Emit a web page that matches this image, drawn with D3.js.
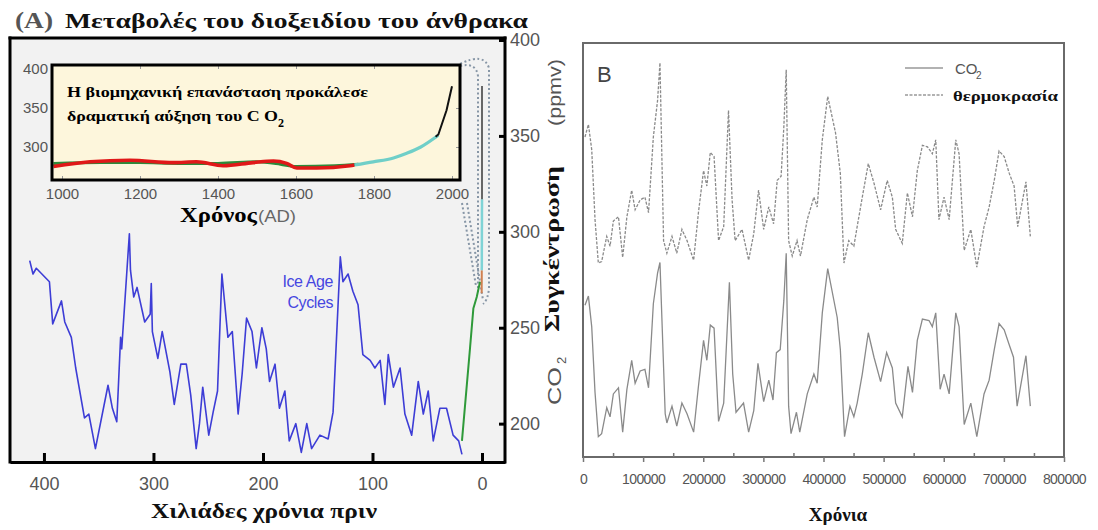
<!DOCTYPE html>
<html>
<head>
<meta charset="utf-8">
<script src="https://cdn.jsdelivr.net/npm/d3@7"></script>
<style>
  html, body { margin: 0; padding: 0; background: #fff; }
  svg { display: block; }
</style>
</head>
<body>
<svg id="chart" width="1098" height="530"></svg>
<script>
// ---------- Panel A: ice-core CO2 over the last ~420 kyr (ppmv) ----------
const ageIce = [413, 410, 407, 395, 392, 384, 381, 375, 371, 363, 359, 353, 341.5, 337.5, 333.5, 330, 329, 322, 321, 318,
  315, 308, 303, 302, 301, 296, 292, 285, 281, 275, 270, 266, 261, 258, 255, 249.5, 245.5, 241.5, 237.5, 232,
  228, 222.7, 219, 215, 210, 206, 201, 197, 194, 189, 185, 180, 176, 170, 165, 160, 155.6, 148, 140.5, 136,
  129.4, 127, 122.3, 117.9, 113.2, 108.8, 102.1, 97.8, 93, 88.7, 85.6, 80.9, 74.8, 70.4, 64.2, 58.2, 53.6, 49.1, 44.5, 38.5,
  32.4, 26.4, 21.3, 18.3];
const co2Ice = [285, 278, 281, 274, 252, 264, 253, 245, 229, 203, 205, 187, 220, 208, 201, 245, 239, 299, 280, 266,
  271, 253, 257, 273, 248, 234, 248, 227, 210, 231, 231, 215, 187, 200, 219, 194, 206, 217, 278, 245,
  248, 205, 226, 255, 248, 229, 250, 239, 222, 231, 208, 217, 191, 200, 185, 200, 187, 194, 192, 206,
  287, 274, 278, 269, 262, 236, 233, 229, 233, 210, 236, 219, 229, 205, 194, 222, 205, 217, 191, 208,
  208, 194, 191, 184];

// deglaciation and Holocene
const ageHolo = [18.3, 11, 7.9, 4.8, 1.8];
const co2Holo = [191, 239, 260, 266, 274];

// industrial era, drawn at age ~0
const ageModern = [0.3, 0.2, 0];
const co2ModernCyan = [280, 317];
const co2ModernBlack = [317, 376];
const co2ModernOrange = [268, 280];

// inset: last millennium (year AD, ppmv)
const yearLaw = [978, 1072, 1174, 1285, 1345, 1413, 1490, 1542, 1576, 1602, 1653, 1738, 1750];
const co2Law = [275, 281, 283, 280, 281, 276, 280, 282, 279, 273, 273, 276, 277];
const yearGreen = [978, 1100, 1200, 1300, 1400, 1500, 1560, 1600, 1700, 1760];
const co2Green = [279, 280, 280, 279, 279, 281, 278, 275, 276, 278];
const yearCyan = [1750, 1798, 1850, 1884, 1920, 1965];
const co2Cyan = [277, 281, 286, 292, 300, 315];
const yearBlack = [1958, 1965, 1986, 2000];
const co2Black = [313, 316, 347, 378];

// tick labels
const ageTicks = [400, 300, 200, 100, 0];
const co2Ticks = [200, 250, 300, 350, 400];
const yearTicks = [1000, 1200, 1400, 1600, 1800, 2000];
const insetCo2Ticks = [300, 350, 400];

// ---------- Panel B: 800 kyr record (thousands of years) ----------
const kyrTemp = [3.3, 9, 14.5, 20, 25.5, 31, 39.5, 45, 50.5, 59, 66, 73, 81, 86.7, 95, 103, 109, 117, 124, 128,
  134, 139.5, 148, 156, 164.5, 173, 184, 192, 200.5, 206, 211.7, 218, 225.5, 234, 242, 248, 253, 264.5, 275.5, 284,
  292, 300.5, 309, 317, 323, 329.5, 334, 338, 342, 348, 356, 361.7, 373, 384, 389.5, 398, 407, 420, 428, 434,
  442, 450.5, 456, 464.5, 474.5, 484, 495, 506, 514.5, 520, 531, 539.5, 548, 556, 564.5, 573, 581, 586.7, 592, 600.5,
  609, 620, 625.5, 634, 645, 655, 667, 675.5, 684, 692, 700.5, 709, 717, 723, 736.7, 744];
const tempAnom = [-0.5, 0.4, -1.4, -6.4, -9.5, -9.4, -7.6, -8.3, -6.5, -6.2, -9.1, -6.2, -4.3, -5.7, -5.0, -4.8, -5.9, -0.5, 2.1, 4.8,
  -7.9, -8.8, -7.6, -8.8, -7.1, -7.9, -9.3, -5.9, -2.9, -4.0, -1.6, -1.9, -7.9, -6.9, 1.4, -5.0, -7.9, -7.1, -9.3, -7.4,
  -4.3, -7.1, -5.5, -6.7, -3.6, -3.3, 0.2, 4.3, -7.9, -9.0, -7.9, -9.0, -6.4, -4.8, -5.5, -0.7, 2.4, -0.2, -3.1, -9.5,
  -7.9, -8.3, -6.9, -4.8, -2.4, -3.8, -5.7, -3.6, -4.8, -7.1, -8.1, -4.5, -6.2, -2.9, -1.1, -1.2, -1.7, -0.7, -6.4, -4.8,
  -6.4, -0.7, -1.7, -8.6, -7.1, -9.8, -6.9, -5.5, -3.6, -1.5, -1.9, -3.1, -4.0, -6.9, -3.7, -7.6];

const kyrCO2 = [3.3, 9, 14.5, 20, 25.5, 31, 39.5, 45, 50.5, 59, 66, 73, 81, 86.7, 95, 103, 109, 117, 124, 128,
  136.7, 139.5, 148, 156, 164.5, 173, 184, 192, 200.5, 206, 211.7, 218, 225.5, 234, 243.5, 249, 254.5, 267, 275.5, 284,
  291, 300.5, 309, 316, 321.7, 328, 334, 338, 342, 346, 355, 360.5, 373, 384, 389.5, 398, 407, 422.8, 428, 435,
  444, 450.5, 456, 464.5, 474.5, 484, 495, 505, 514.5, 520, 531, 540.5, 548, 556, 564.5, 575.5, 581, 586.7, 594, 600.5,
  609, 620, 625.5, 634, 645, 655, 667, 675.5, 684, 692, 700.5, 709, 716, 722, 736.7, 744];
const co2Epica = [266, 272, 252, 209, 180, 182, 199, 193, 208, 212, 183, 211, 230, 215, 223, 224, 212, 267, 287, 294,
  195, 189, 200, 187, 202, 195, 183, 213, 243, 230, 253, 251, 190, 202, 281, 221, 196, 202, 183, 197,
  228, 203, 217, 204, 235, 237, 269, 300, 200, 182, 196, 183, 208, 221, 215, 261, 290, 258, 237, 180,
  200, 193, 202, 221, 248, 232, 216, 235, 225, 202, 193, 226, 209, 243, 257, 256, 252, 261, 211, 221,
  208, 261, 252, 188, 202, 180, 208, 217, 237, 254, 250, 240, 232, 200, 233, 200];

const yearTicksB = [0, 100000, 200000, 300000, 400000, 500000, 600000, 700000, 800000];
const minorTicksB = [50000, 150000, 250000, 350000, 450000, 550000, 650000, 750000];

// ---------- drawing ----------
const SERIF = "'Liberation Serif','Times New Roman',serif";
const SANS = "'Liberation Sans',Arial,sans-serif";
const svg = d3.select("#chart");
svg.append("rect").attr("width", 1098).attr("height", 530).attr("fill", "#fff");

// ===== Panel A =====
const A = { left: 10, right: 505, top: 38, bottom: 462 };
svg.append("rect")
  .attr("x", A.left).attr("y", A.top)
  .attr("width", A.right - A.left).attr("height", A.bottom - A.top)
  .attr("fill", "#f2f2f2");

const xA = d3.scaleLinear().domain([431, -21]).range([A.left, A.right]);
const yA = d3.scaleLinear().domain([180, 400]).range([A.bottom, 40]);
const lineA = d3.line().x(d => xA(d[0])).y(d => yA(d[1]));

// dotted zoom connector between the inset and the present-day spike
const conn = svg.append("g").attr("fill", "none").attr("stroke", "#8796a6")
  .attr("stroke-width", 2).attr("stroke-dasharray", "2,2.5");
conn.append("path").attr("d", `M460,64 Q484,52 489,68 L489,288 Q488,300 483,304`);
conn.append("path").attr("d", `M460,66 Q476,62 478,76 L478,292`);
conn.append("path").attr("d", `M462,203 L476,286`);
conn.append("path").attr("d", `M467,203 L483,300`);

// glacial cycles
svg.append("path")
  .datum(d3.zip(ageIce, co2Ice))
  .attr("d", lineA)
  .attr("fill", "none").attr("stroke", "#3d3dd6").attr("stroke-width", 1.6)
  .attr("stroke-linejoin", "round");

// deglaciation / Holocene
svg.append("path")
  .datum(d3.zip(ageHolo, co2Holo))
  .attr("d", lineA)
  .attr("fill", "none").attr("stroke", "#2f9a3a").attr("stroke-width", 2)
  .attr("stroke-linejoin", "round");

// industrial spike
svg.append("path").datum([[ageModern[0], co2ModernOrange[0]], [ageModern[1], co2ModernOrange[1]]])
  .attr("d", lineA).attr("fill", "none").attr("stroke", "#d08050").attr("stroke-width", 2);
svg.append("path").datum([[ageModern[1], co2ModernCyan[0]], [ageModern[2], co2ModernCyan[1]]])
  .attr("d", lineA).attr("fill", "none").attr("stroke", "#7fd3d6").attr("stroke-width", 2.5);
svg.append("path").datum([[ageModern[2], co2ModernBlack[0]], [ageModern[2], co2ModernBlack[1]]])
  .attr("d", lineA).attr("fill", "none").attr("stroke", "#444").attr("stroke-width", 1.6);

// "Ice Age Cycles"
const iceLbl = svg.append("text").attr("font-family", SANS).attr("font-size", 16)
  .attr("fill", "#4646e0").attr("text-anchor", "end");
iceLbl.append("tspan").attr("x", 333).attr("y", 287).attr("letter-spacing", -0.4).text("Ice Age");
iceLbl.append("tspan").attr("x", 333).attr("y", 308).attr("letter-spacing", -0.4).text("Cycles");

// bottom axis
const gxA = svg.append("g").attr("transform", `translate(0,${A.bottom})`)
  .call(d3.axisBottom(xA).tickValues(ageTicks).tickSizeInner(-9).tickSizeOuter(0).tickPadding(15));
gxA.select(".domain").attr("stroke", "#000").attr("stroke-width", 3);
gxA.selectAll(".tick line").attr("stroke", "#000").attr("stroke-width", 3);
gxA.selectAll(".tick text").attr("font-family", SANS).attr("font-size", 18).attr("fill", "#555");

// right axis
const gyA = svg.append("g").attr("transform", `translate(${A.right},0)`)
  .call(d3.axisRight(yA).tickValues(co2Ticks).tickSizeInner(-6).tickSizeOuter(0).tickPadding(5));
gyA.select(".domain").remove();
gyA.selectAll(".tick line").attr("stroke", "#000").attr("stroke-width", 3);
gyA.selectAll(".tick text").attr("font-family", SANS).attr("font-size", 18).attr("fill", "#555");

// frame
const frameA = svg.append("g").attr("stroke", "#000").attr("stroke-width", 3);
frameA.append("line").attr("x1", A.left).attr("x2", A.left).attr("y1", A.top - 1.5).attr("y2", A.bottom + 1.5);
frameA.append("line").attr("x1", A.left - 1.5).attr("x2", A.right + 1.5).attr("y1", A.top).attr("y2", A.top);
frameA.append("line").attr("x1", A.right).attr("x2", A.right).attr("y1", A.top - 1.5).attr("y2", A.bottom + 1.5);

// ----- inset -----
const I = { left: 52, right: 460, top: 65, bottom: 180 };
const xI = d3.scaleLinear().domain([1000, 2000]).range([62, 452]);
const yI = d3.scaleLinear().domain([300, 400]).range([147, 69]);
const lineI = d3.line().x(d => xI(d[0])).y(d => yI(d[1])).curve(d3.curveMonotoneX);

svg.append("defs").append("clipPath").attr("id", "insetClip")
  .append("rect").attr("x", I.left).attr("y", I.top)
  .attr("width", I.right - I.left).attr("height", I.bottom - I.top);

svg.append("rect").attr("x", I.left).attr("y", I.top)
  .attr("width", I.right - I.left).attr("height", I.bottom - I.top)
  .attr("fill", "#fdf6dc");

const insetG = svg.append("g").attr("clip-path", "url(#insetClip)");
insetG.append("path").datum(d3.zip(yearGreen, co2Green)).attr("d", lineI)
  .attr("fill", "none").attr("stroke", "#2c8a3a").attr("stroke-width", 3);
insetG.append("path").datum(d3.zip(yearLaw, co2Law)).attr("d", lineI)
  .attr("fill", "none").attr("stroke", "#e01818").attr("stroke-width", 3.6);
insetG.append("path").datum(d3.zip(yearCyan, co2Cyan)).attr("d", lineI)
  .attr("fill", "none").attr("stroke", "#6fcfc8").attr("stroke-width", 3.2);
insetG.append("path").datum(d3.zip(yearBlack, co2Black)).attr("d", d3.line().x(d => xI(d[0])).y(d => yI(d[1])))
  .attr("fill", "none").attr("stroke", "#111").attr("stroke-width", 2);

// inset axes
const gxI = svg.append("g").attr("transform", `translate(0,${I.bottom})`)
  .call(d3.axisBottom(xI).tickValues(yearTicks).tickFormat(d3.format("d")).tickSizeInner(-4).tickSizeOuter(0).tickPadding(8));
gxI.select(".domain").remove();
gxI.selectAll(".tick line").attr("stroke", "#999").attr("stroke-width", 1);
gxI.selectAll(".tick text").attr("font-family", SANS).attr("font-size", 15).attr("fill", "#555");

const gxIt = svg.append("g").attr("transform", `translate(0,${I.top})`)
  .call(d3.axisTop(xI).tickValues(yearTicks.slice(1, -1)).tickFormat("").tickSizeInner(-4).tickSizeOuter(0));
gxIt.select(".domain").remove();
gxIt.selectAll(".tick line").attr("stroke", "#999");

const gyI = svg.append("g").attr("transform", `translate(${I.left},0)`)
  .call(d3.axisLeft(yI).tickValues(insetCo2Ticks).tickSizeInner(0).tickSizeOuter(0).tickPadding(4));
gyI.select(".domain").remove();
gyI.selectAll(".tick text").attr("font-family", SANS).attr("font-size", 15).attr("fill", "#555");

const gyIr = svg.append("g").attr("transform", `translate(${I.right},0)`)
  .call(d3.axisRight(yI).tickValues([300, 350]).tickFormat("").tickSizeInner(-4).tickSizeOuter(0));
gyIr.select(".domain").remove();
gyIr.selectAll(".tick line").attr("stroke", "#999");

svg.append("rect").attr("x", I.left).attr("y", I.top)
  .attr("width", I.right - I.left).attr("height", I.bottom - I.top)
  .attr("fill", "none").attr("stroke", "#000").attr("stroke-width", 3);

// inset caption
svg.append("text").attr("x", 67).attr("y", 97)
  .attr("font-family", SERIF).attr("font-weight", "bold").attr("font-size", 14)
  .attr("textLength", 301).attr("lengthAdjust", "spacingAndGlyphs")
  .text("Η βιομηχανική επανάσταση προκάλεσε");
svg.append("text").attr("x", 67).attr("y", 121)
  .attr("font-family", SERIF).attr("font-weight", "bold").attr("font-size", 14)
  .attr("textLength", 211).attr("lengthAdjust", "spacingAndGlyphs")
  .text("δραματική αύξηση του C O");
svg.append("text").attr("x", 278).attr("y", 127)
  .attr("font-family", SERIF).attr("font-weight", "bold").attr("font-size", 12).text("2");

// inset x title
svg.append("text").attr("x", 180).attr("y", 222)
  .attr("font-family", SERIF).attr("font-weight", "bold").attr("font-size", 21)
  .attr("textLength", 77).attr("lengthAdjust", "spacingAndGlyphs").text("Χρόνος");
svg.append("text").attr("x", 258).attr("y", 222)
  .attr("font-family", SANS).attr("font-size", 16).attr("fill", "#666")
  .attr("textLength", 38).attr("lengthAdjust", "spacingAndGlyphs").text("(AD)");

// panel A title
svg.append("text").attr("x", 15).attr("y", 28)
  .attr("font-family", SERIF).attr("font-weight", "bold").attr("font-size", 23).attr("fill", "#555")
  .attr("textLength", 38).attr("lengthAdjust", "spacingAndGlyphs").text("(A)");
svg.append("text").attr("x", 65).attr("y", 28)
  .attr("font-family", SERIF).attr("font-weight", "bold").attr("font-size", 22).attr("fill", "#111")
  .attr("textLength", 463).attr("lengthAdjust", "spacingAndGlyphs")
  .text("Μεταβολές του διοξειδίου του άνθρακα");

// panel A x title
svg.append("text").attr("x", 151).attr("y", 518)
  .attr("font-family", SERIF).attr("font-weight", "bold").attr("font-size", 21).attr("fill", "#111")
  .attr("textLength", 226).attr("lengthAdjust", "spacingAndGlyphs")
  .text("Χιλιάδες χρόνια πριν");

// vertical axis title
svg.append("text").attr("transform", "translate(561,405) rotate(-90)")
  .attr("font-family", SANS).attr("font-size", 19).attr("fill", "#555")
  .attr("textLength", 38).attr("lengthAdjust", "spacingAndGlyphs").text("CO");
svg.append("text").attr("transform", "translate(566,364) rotate(-90)")
  .attr("font-family", SANS).attr("font-size", 13).attr("fill", "#555").text("2");
svg.append("text").attr("transform", "translate(559,332) rotate(-90)")
  .attr("font-family", SERIF).attr("font-weight", "bold").attr("font-size", 20).attr("fill", "#111")
  .attr("textLength", 166).attr("lengthAdjust", "spacingAndGlyphs").text("Συγκέντρωση");
svg.append("text").attr("transform", "translate(561,126) rotate(-90)")
  .attr("font-family", SANS).attr("font-size", 19).attr("fill", "#555")
  .attr("textLength", 67).attr("lengthAdjust", "spacingAndGlyphs").text("(ppmv)");

// ===== Panel B =====
const B = { left: 583, right: 1064, top: 43, bottom: 457 };
const xB = d3.scaleLinear().domain([0, 800000]).range([B.left, B.right]);
const yT = d3.scaleLinear().domain([-10, 5]).range([270, 60]);
const yC = d3.scaleLinear().domain([170, 310]).range([452, 238]);

svg.append("path")
  .datum(d3.zip(kyrTemp, tempAnom))
  .attr("d", d3.line().x(d => xB(d[0] * 1000)).y(d => yT(d[1])))
  .attr("fill", "none").attr("stroke", "#8a8a8a").attr("stroke-width", 1.3)
  .attr("stroke-dasharray", "3,1.5");
svg.append("path")
  .datum(d3.zip(kyrCO2, co2Epica))
  .attr("d", d3.line().x(d => xB(d[0] * 1000)).y(d => yC(d[1])))
  .attr("fill", "none").attr("stroke", "#8a8a8a").attr("stroke-width", 1.3);

svg.append("rect").attr("x", B.left).attr("y", B.top)
  .attr("width", B.right - B.left).attr("height", B.bottom - B.top)
  .attr("fill", "none").attr("stroke", "#6a6a6a").attr("stroke-width", 2);

const gxB = svg.append("g").attr("transform", `translate(0,${B.bottom})`)
  .call(d3.axisBottom(xB).tickValues(yearTicksB).tickFormat(d3.format("d")).tickSizeInner(5).tickSizeOuter(0).tickPadding(12));
gxB.select(".domain").remove();
gxB.selectAll(".tick line").attr("stroke", "#777").attr("stroke-width", 1.5);
gxB.selectAll(".tick text").attr("font-family", SANS).attr("font-size", 14).attr("fill", "#555")
  .attr("letter-spacing", -0.6);

const gxBm = svg.append("g").attr("transform", `translate(0,${B.bottom})`)
  .call(d3.axisTop(xB).tickValues(minorTicksB).tickFormat("").tickSizeInner(4).tickSizeOuter(0));
gxBm.select(".domain").remove();
gxBm.selectAll(".tick line").attr("stroke", "#777").attr("stroke-width", 1.5);

svg.append("text").attr("x", 597).attr("y", 82)
  .attr("font-family", SANS).attr("font-size", 22).attr("fill", "#444").text("B");

// legend
svg.append("line").attr("x1", 905).attr("x2", 943).attr("y1", 68).attr("y2", 68)
  .attr("stroke", "#999").attr("stroke-width", 1.3);
svg.append("text").attr("x", 955).attr("y", 74)
  .attr("font-family", SANS).attr("font-size", 15).attr("fill", "#555").text("CO");
svg.append("text").attr("x", 976).attr("y", 79)
  .attr("font-family", SANS).attr("font-size", 10).attr("fill", "#555").text("2");
svg.append("line").attr("x1", 905).attr("x2", 943).attr("y1", 95).attr("y2", 95)
  .attr("stroke", "#999").attr("stroke-width", 1.3).attr("stroke-dasharray", "3,1.5");
svg.append("text").attr("x", 953).attr("y", 101)
  .attr("font-family", SERIF).attr("font-weight", "bold").attr("font-size", 14).attr("fill", "#111")
  .attr("textLength", 105).attr("lengthAdjust", "spacingAndGlyphs").text("θερμοκρασία");

svg.append("text").attr("x", 838).attr("y", 521).attr("text-anchor", "middle")
  .attr("font-family", SERIF).attr("font-weight", "bold").attr("font-size", 19).attr("fill", "#111")
  .text("Χρόνια");
</script>
</body>
</html>
